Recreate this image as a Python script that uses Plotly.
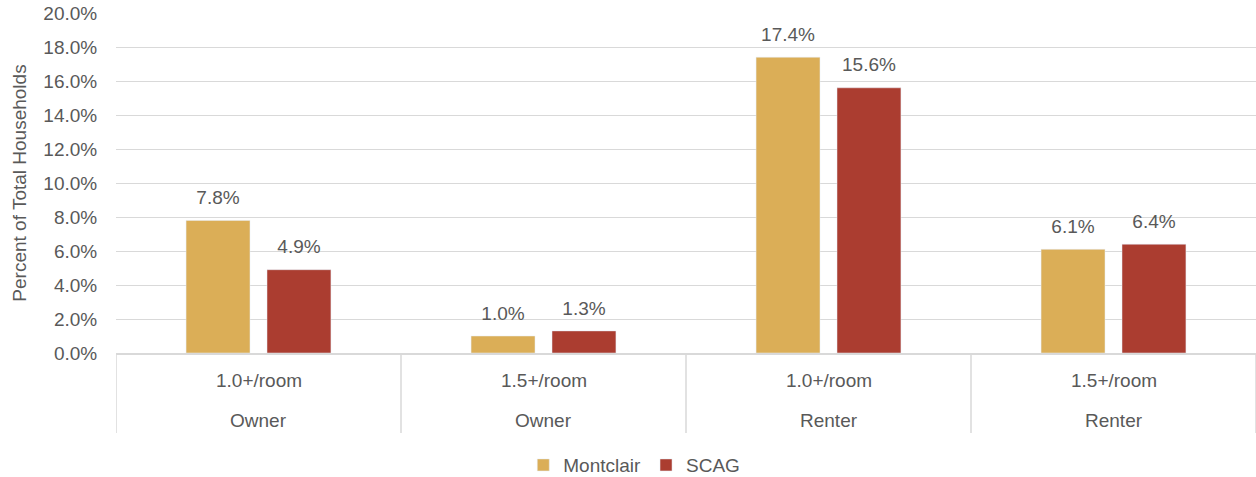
import plotly.graph_objects as go

tenure = ["Owner", "Owner", "Renter", "Renter"]
crowding = ["1.0+/room", "1.5+/room", "1.0+/room", "1.5+/room"]
montclair = [7.8, 1.0, 17.4, 6.1]
scag = [4.9, 1.3, 15.6, 6.4]
ytick_vals = [0, 2, 4, 6, 8, 10, 12, 14, 16, 18, 20]

cats = [f"{t} {c}" for t, c in zip(tenure, crowding)]
FONT = "Liberation Sans, Arial"
GRAY = "#595959"
LINE = "#d9d9d9"
FS = 19

fig = go.Figure()
series = [("Montclair", montclair, "#DBAE57"), ("SCAG", scag, "#AB3D30")]
for name, vals, col in series:
    fig.add_trace(go.Bar(name=name, x=cats, y=vals, marker_color=col, hoverinfo="x+y"))
for name, vals, col in series:
    fig.add_trace(go.Scatter(name=name + " labels", x=cats, y=vals, mode="markers+text",
                             marker=dict(size=17, opacity=0, color=col),
                             text=[f"{v:.1f}%" for v in vals], textposition="top center",
                             textfont=dict(size=FS, color=GRAY, family=FONT),
                             showlegend=False, hoverinfo="skip", cliponaxis=False))

for i, cat in enumerate(cats):
    fig.add_annotation(x=cat, xref="x", y=0, yref="paper", yshift=-27, text=crowding[i],
                       showarrow=False, font=dict(size=FS, color=GRAY, family=FONT), yanchor="middle")
    fig.add_annotation(x=cat, xref="x", y=0, yref="paper", yshift=-67, text=tenure[i],
                       showarrow=False, font=dict(size=FS, color=GRAY, family=FONT), yanchor="middle")

for k in range(len(cats) + 1):
    fig.add_shape(type="line", xref="x", yref="paper", x0=k - 0.5, x1=k - 0.5, y0=0, y1=-80 / 340,
                  line=dict(color=LINE, width=1.5))

fig.update_layout(
    width=1256, height=477,
    margin=dict(l=116, r=0, t=13, b=124),
    plot_bgcolor="white", paper_bgcolor="white",
    barmode="group", bargap=0.432, bargroupgap=0.21,
    scattermode="group", scattergap=0.432,
    font=dict(family=FONT, color=GRAY, size=FS),
    legend=dict(orientation="h", xref="container", yref="container", x=0.505, xanchor="center",
                y=0.025, yanchor="middle", font=dict(size=FS, color=GRAY, family=FONT),
                tracegroupgap=0),
    xaxis=dict(showticklabels=False, showgrid=False, showline=True, linecolor=LINE, linewidth=1.5,
               range=[-0.5, len(cats) - 0.5], fixedrange=True),
    yaxis=dict(range=[0, 20], tickvals=ytick_vals, ticktext=[f"{v:.1f}%" for v in ytick_vals],
               showgrid=True, gridcolor=LINE, gridwidth=1, zeroline=False,
               ticks="outside", ticklen=14, tickcolor="rgba(0,0,0,0)",
               tickfont=dict(size=FS, color=GRAY, family=FONT),
               title=dict(text="Percent of Total Households", font=dict(size=FS, color=GRAY, family=FONT),
                          standoff=11)),
)

fig.write_html("out.html", config={"displayModeBar": False},
               post_script="document.body.style.margin='0';document.body.style.overflow='hidden';")
